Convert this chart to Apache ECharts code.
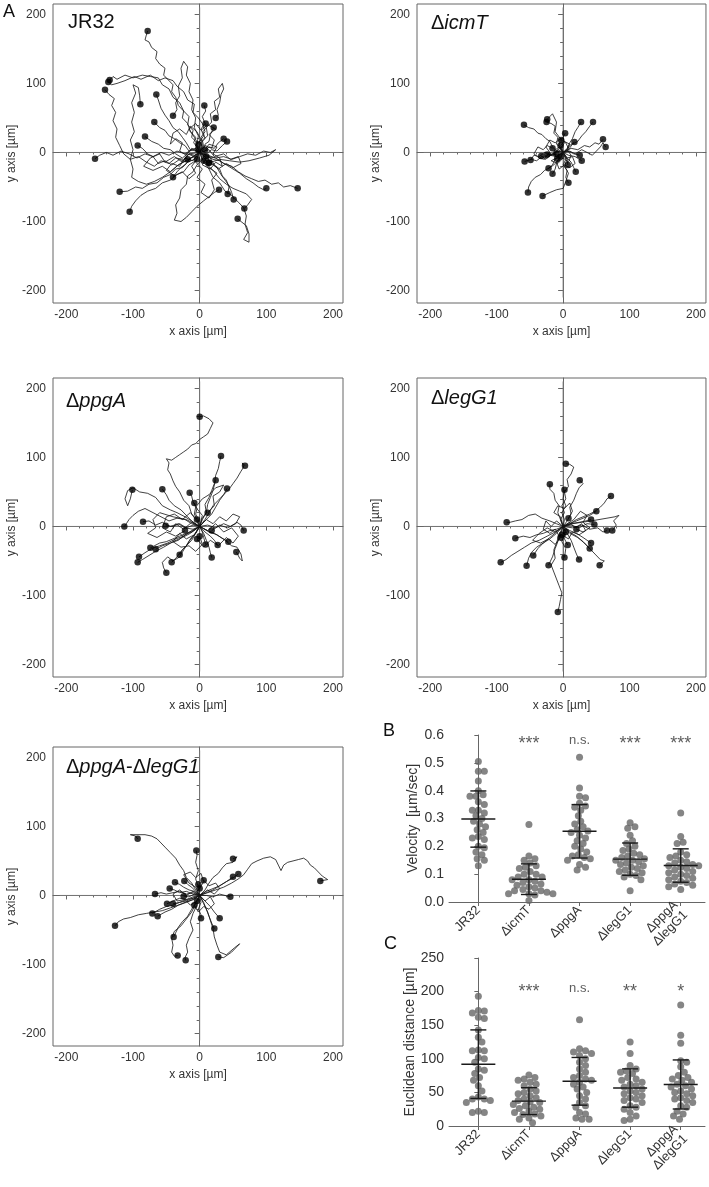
<!DOCTYPE html>
<html><head><meta charset="utf-8">
<script src="https://cdn.jsdelivr.net/npm/echarts@6/dist/echarts.min.js"></script>
<style>html,body{margin:0;padding:0;background:#fff}#c{width:709px;height:1187px}</style>
</head><body><div id="c"></div><script>
// ---------------- DATA ----------------
const trackTicks = [-200, -100, 0, 100, 200];
const trackMinorTicks = [-200,-180,-160,-140,-120,-100,-80,-60,-40,-20,0,20,40,60,80,100,120,140,160,180,200];

const tracksJR32 = [
 [[0,0],[-4,8],[-9,14],[-6,22],[-14,30],[-18,42],[-26,50],[-24,60],[-32,68],[-36,80],[-42,88],[-40,98],[-48,106],[-54,112],[-52,122],[-60,128],[-66,136],[-64,146],[-72,152],[-76,160],[-82,163],[-80,170],[-78,176]],
 [[0,0],[-6,6],[-4,14],[-12,22],[-10,32],[-18,40],[-16,52],[-24,60],[-30,72],[-40,80],[-46,92],[-56,98],[-62,108],[-74,110],[-86,112],[-100,108],[-112,112],[-124,106],[-130,110],[-135,105]],
 [[0,0],[4,10],[2,22],[8,30],[4,42],[-2,50],[-10,58],[-8,70],[-18,76],[-24,88],[-34,96],[-40,104],[-52,108],[-62,104],[-74,112],[-88,106],[-98,110],[-112,104],[-124,100],[-132,98],[-137,102]],
 [[0,0],[-8,-4],[-16,-2],[-24,-10],[-36,-8],[-46,-16],[-58,-12],[-68,-20],[-80,-14],[-92,-6],[-104,-10],[-114,-2],[-120,10],[-126,22],[-124,34],[-130,46],[-126,58],[-132,68],[-128,78],[-136,84],[-142,91]],
 [[0,0],[-6,6],[-14,4],[-20,14],[-26,22],[-32,30],[-40,36],[-46,46],[-52,54],[-58,64],[-62,76],[-65,84]],
 [[0,0],[-10,-6],[-20,-12],[-32,-18],[-44,-28],[-56,-36],[-68,-42],[-80,-46],[-92,-42],[-102,-36],[-100,-24],[-104,-10],[-100,4],[-104,18],[-98,30],[-102,44],[-98,58],[-102,72],[-96,86],[-100,98],[-92,94],[-90,82],[-89,70]],
 [[0,0],[4,8],[0,16],[6,24],[2,34],[8,42],[4,52],[9,60],[7,68]],
 [[0,0],[-4,12],[-2,24],[-8,36],[-6,50],[-12,62],[-10,76],[-16,88],[-14,100],[-20,112],[-18,124],[-24,132],[-28,122],[-26,108],[-32,96],[-30,82],[-36,72],[-34,62],[-40,53]],
 [[0,0],[4,6],[2,14],[8,20],[5,30],[10,36],[9,42]],
 [[0,0],[6,8],[4,18],[12,24],[10,36],[18,44],[16,56],[24,62],[22,74],[30,80],[28,92],[34,100],[36,92],[32,84],[30,72],[26,62],[28,54],[24,50]],
 [[0,0],[6,4],[8,12],[14,16],[16,26],[21,36]],
 [[0,0],[-8,4],[-16,2],[-22,10],[-30,14],[-38,20],[-46,24],[-52,32],[-60,36],[-68,44]],
 [[0,0],[-8,-6],[-18,-2],[-26,-8],[-36,-2],[-44,4],[-54,6],[-62,12],[-72,16],[-82,23]],
 [[0,0],[-10,-6],[-20,-14],[-30,-10],[-42,-18],[-52,-12],[-62,-16],[-70,-6],[-78,-2],[-86,6],[-93,10]],
 [[0,0],[8,2],[14,8],[22,6],[28,14],[36,20]],
 [[0,0],[10,-2],[18,4],[26,2],[34,10],[41,16]],
 [[0,0],[-12,4],[-22,-2],[-34,2],[-46,-4],[-58,0],[-70,-6],[-82,-2],[-94,-8],[-106,-2],[-118,2],[-130,-4],[-140,0],[-150,-4],[-157,-9]],
 [[0,0],[-8,-10],[-18,-14],[-26,-22],[-36,-24],[-44,-32],[-54,-36],[-64,-44],[-76,-46],[-86,-52],[-96,-50],[-108,-56],[-120,-57]],
 [[0,0],[-6,-12],[-16,-18],[-24,-28],[-34,-32],[-44,-40],[-56,-44],[-66,-52],[-78,-56],[-88,-62],[-96,-70],[-102,-78],[-105,-86]],
 [[0,0],[-6,-6],[-14,-8],[-20,-16],[-28,-22],[-34,-28],[-40,-36]],
 [[0,0],[4,-10],[-4,-18],[-10,-28],[-18,-34],[-20,-46],[-28,-54],[-30,-66],[-36,-76],[-34,-88],[-38,-98],[-28,-100],[-20,-94],[-12,-86],[-4,-78],[6,-70],[14,-64],[22,-58],[29,-54]],
 [[0,0],[8,-6],[16,-8],[22,-18],[30,-24],[34,-34],[40,-40],[44,-50],[42,-60]],
 [[0,0],[10,-8],[18,-16],[26,-22],[32,-32],[38,-40],[44,-48],[48,-58],[51,-68]],
 [[0,0],[8,-10],[14,-20],[22,-28],[30,-38],[40,-46],[50,-52],[60,-56],[70,-60],[78,-68],[72,-76],[67,-81]],
 [[0,0],[6,-14],[14,-24],[20,-36],[30,-44],[38,-56],[48,-62],[58,-72],[66,-80],[70,-92],[68,-104],[72,-116],[66,-126],[74,-130],[74,-118],[70,-106],[62,-100],[57,-96]],
 [[0,0],[10,-4],[20,-10],[30,-12],[40,-18],[50,-24],[60,-30],[70,-38],[80,-44],[88,-50],[96,-54],[100,-52]],
 [[0,0],[12,-6],[24,-8],[36,-16],[48,-20],[58,-28],[68,-34],[78,-38],[88,-42],[98,-40],[108,-46],[118,-44],[126,-50],[136,-48],[147,-52]],
 [[0,0],[6,-4],[4,-10],[10,-12],[14,-15]],
 [[0,0],[12,-4],[24,-8],[36,-6],[48,-10],[60,-6],[72,-2],[84,-4],[96,2],[106,0],[114,4],[104,-4],[90,-8],[74,-12],[60,-14],[45,-12],[30,-10],[14,-15]],
 [[0,0],[-12,6],[-20,-4],[-30,2],[-26,14],[-36,20],[-44,12],[-40,28],[-30,34],[-20,26],[-14,38],[-4,30],[2,18],[-6,10],[-2,4]],
 [[0,0],[10,-8],[4,-18],[16,-24],[24,-14],[34,-20],[30,-8],[20,-2],[26,8],[14,12],[8,4]],
 [[0,0],[-10,-12],[-22,-8],[-30,-20],[-42,-16],[-50,-26],[-38,-34],[-26,-28],[-16,-38],[-6,-30],[-12,-20],[-4,-10]],
 [[0,0],[14,4],[22,-6],[36,-2],[46,-10],[58,-6],[62,-16],[50,-22],[40,-16],[28,-24],[18,-16],[10,-6]],
 [[0,0],[-6,-14],[4,-24],[-4,-36],[8,-46],[2,-58],[14,-66],[22,-54],[18,-40],[26,-30],[14,-22],[6,-12]],
 [[0,0],[-16,-2],[-26,-14],[-38,-6],[-52,-14],[-60,-2],[-74,-8],[-84,-20],[-70,-26],[-56,-20],[-44,-28],[-32,-18],[-18,-10]],
 [[0,0],[8,10],[18,6],[22,18],[14,26],[24,34],[12,40],[2,32],[-6,42],[-16,34],[-8,22],[-2,12]]
];

const tracksIcmT = [
 [[0,0],[-6,6],[-10,2],[-16,8],[-20,16],[-26,20],[-32,26],[-38,28],[-44,34],[-52,36],[-59,40]],
 [[0,0],[-4,8],[-10,12],[-8,22],[-14,28],[-12,38],[-18,42],[-25,44]],
 [[0,0],[-6,10],[-4,20],[-12,30],[-10,44],[-16,56],[-20,52],[-24,48]],
 [[0,0],[6,6],[10,14],[14,20],[18,30],[22,36],[27,44]],
 [[0,0],[8,4],[14,12],[22,16],[28,24],[34,30],[40,38],[45,44]],
 [[0,0],[-2,8],[2,14],[0,22],[3,28]],
 [[0,0],[6,4],[10,10],[17,15]],
 [[0,0],[10,2],[18,-2],[28,4],[36,0],[44,-4],[50,2],[56,8],[60,14],[64,8]],
 [[0,0],[12,6],[22,4],[32,10],[40,8],[48,14],[54,12],[60,19]],
 [[0,0],[-8,-4],[-16,-2],[-24,-8],[-32,-6],[-40,-12],[-48,-10],[-58,-13]],
 [[0,0],[-10,2],[-18,-4],[-28,0],[-36,-6],[-44,-4],[-49,-11]],
 [[0,0],[-8,2],[-16,-2],[-24,-3]],
 [[0,0],[-6,-6],[-12,-10],[-16,-18],[-22,-23]],
 [[0,0],[-4,-10],[-10,-16],[-12,-24],[-16,-31]],
 [[0,0],[2,-6],[6,-10],[7,-18]],
 [[0,0],[6,-8],[12,-14],[16,-22],[19,-28]],
 [[0,0],[8,2],[16,-2],[25,-4]],
 [[0,0],[8,-4],[18,-6],[28,-12]],
 [[0,0],[4,-10],[0,-18],[6,-26],[4,-36],[8,-44]],
 [[0,0],[-6,-10],[-14,-18],[-20,-22],[-28,-26],[-34,-32],[-42,-36],[-48,-42],[-52,-50],[-53,-58]],
 [[0,0],[6,-10],[2,-20],[8,-30],[4,-42],[0,-52],[-10,-54],[-20,-58],[-31,-63]],
 [[0,0],[-10,-6],[-20,-4],[-26,-10],[-33,-5]],
 [[0,0],[-4,6],[0,12],[-3,18]],
 [[0,0],[-4,-2],[-9,-9]],
 [[0,0],[-6,8],[-14,2],[-10,-8],[-18,-12],[-8,-16],[0,-8],[8,-14],[12,-4],[6,4],[10,12],[2,16],[-4,10]],
 [[0,0],[8,6],[4,14],[-4,20],[-12,14],[-20,18],[-26,8],[-20,0],[-28,-6],[-18,-4],[-10,-2]],
 [[0,0],[6,-8],[14,-6],[18,-16],[10,-22],[2,-18],[-6,-24],[-10,-14],[-4,-6]],
 [[0,0],[-8,4],[-14,-4],[-22,-2],[-28,-10],[-36,-8],[-44,-2],[-38,8],[-30,4],[-24,10],[-16,6]]
];

const tracksPpgA = [
 [[0,0],[-6,10],[-12,18],[-16,30],[-24,38],[-30,50],[-36,58],[-40,66],[-44,76],[-48,82],[-46,92],[-50,98],[-42,96],[-36,100],[-30,104],[-24,108],[-18,112],[-12,118],[-6,120],[0,126],[6,130],[12,134],[16,142],[20,150],[14,156],[6,160],[0,159]],
 [[0,0],[4,12],[10,20],[8,32],[14,42],[18,52],[22,62],[24,74],[28,84],[30,94],[32,102]],
 [[0,0],[8,10],[14,20],[20,30],[28,38],[36,46],[44,54],[50,62],[56,70],[62,80],[66,86],[64,92],[68,88]],
 [[0,0],[4,10],[10,20],[12,32],[16,42],[20,52],[22,60],[24,67]],
 [[0,0],[10,10],[18,18],[24,28],[30,38],[36,46],[41,55]],
 [[0,0],[-4,10],[-8,18],[-6,28],[-10,36],[-12,44],[-15,49]],
 [[0,0],[-10,6],[-18,14],[-28,24],[-38,30],[-46,38],[-50,46],[-56,54]],
 [[0,0],[-12,8],[-22,14],[-34,20],[-44,24],[-56,30],[-66,42],[-78,48],[-90,50],[-100,56],[-108,52],[-112,40],[-108,30],[-104,40],[-101,53]],
 [[0,0],[-2,10],[-6,18],[-4,26],[-8,34]],
 [[0,0],[-12,4],[-22,10],[-34,12],[-46,8],[-58,14],[-70,20],[-82,26],[-92,22],[-100,16],[-106,10],[-110,4],[-113,0]],
 [[0,0],[-10,-4],[-22,-2],[-32,4],[-44,0],[-56,6],[-66,2],[-76,8],[-85,7]],
 [[0,0],[-10,2],[-20,-2],[-30,4],[-40,0],[-51,1]],
 [[0,0],[-10,-6],[-20,-10],[-30,-14],[-40,-18],[-50,-22],[-60,-24],[-68,-28],[-74,-31]],
 [[0,0],[-12,-8],[-22,-12],[-32,-20],[-44,-24],[-56,-28],[-66,-33]],
 [[0,0],[-12,-6],[-24,-14],[-36,-18],[-48,-24],[-60,-28],[-72,-32],[-82,-38],[-91,-44]],
 [[0,0],[-14,-10],[-26,-16],[-40,-22],[-54,-30],[-66,-36],[-76,-42],[-86,-48],[-93,-52]],
 [[0,0],[-6,-10],[-14,-18],[-20,-28],[-28,-36],[-34,-44],[-42,-52]],
 [[0,0],[-6,-10],[-12,-20],[-20,-28],[-26,-34],[-30,-41]],
 [[0,0],[-8,-12],[-16,-22],[-24,-34],[-30,-44],[-40,-50],[-48,-44],[-56,-52],[-54,-60],[-50,-67]],
 [[0,0],[4,-8],[6,-16],[9,-26]],
 [[0,0],[6,-10],[10,-20],[14,-30],[16,-38],[18,-45]],
 [[0,0],[8,-8],[16,-14],[22,-20],[27,-27]],
 [[0,0],[12,-6],[22,-10],[32,-16],[43,-22]],
 [[0,0],[14,-8],[26,-12],[38,-20],[48,-28],[56,-30],[62,-40],[64,-50],[60,-46],[55,-37]],
 [[0,0],[12,2],[24,-2],[36,4],[46,0],[56,6],[62,2],[66,-6]],
 [[0,0],[-12,6],[-24,-4],[-36,4],[-44,-8],[-56,-2],[-50,14],[-38,18],[-26,10],[-14,20],[-4,10]],
 [[0,0],[12,-6],[24,4],[36,-8],[48,-2],[58,-14],[50,-24],[40,-16],[28,-28],[16,-20],[6,-30],[-4,-18]],
 [[0,0],[-8,-12],[-20,-18],[-30,-10],[-40,-22],[-28,-30],[-16,-28],[-6,-36],[4,-26],[0,-14]],
 [[0,0],[10,10],[20,4],[30,14],[40,8],[50,18],[60,14],[54,4],[42,-2],[30,2],[18,-6]],
 [[0,0],[-20,10],[-40,14],[-60,20],[-70,10],[-66,-2],[-78,-10],[-64,-16],[-50,-8],[-36,-14],[-22,-6]],
 [[0,0],[4,16],[-6,28],[4,40],[14,46],[24,56],[36,60],[30,50],[20,44],[22,30],[12,20]]
];

const tracksLegG1 = [
 [[0,0],[-4,10],[2,20],[-2,30],[4,40],[2,50],[8,58],[6,68],[12,76],[16,86],[10,90],[4,91]],
 [[0,0],[6,8],[12,18],[10,28],[16,38],[20,48],[24,56],[30,62],[25,67]],
 [[0,0],[-4,10],[-8,20],[-6,30],[-12,38],[-14,48],[-20,54],[-20,61]],
 [[0,0],[2,10],[-2,20],[4,30],[0,40],[2,53]],
 [[0,0],[10,4],[20,10],[30,14],[40,18],[48,22],[56,28],[62,34],[66,40],[72,44]],
 [[0,0],[10,4],[20,8],[30,12],[40,16],[50,22]],
 [[0,0],[-10,4],[-20,8],[-32,12],[-42,18],[-52,16],[-62,10],[-72,8],[-80,6],[-85,6]],
 [[0,0],[-10,-4],[-20,-6],[-30,-10],[-40,-12],[-50,-16],[-60,-14],[-72,-17]],
 [[0,0],[-12,-8],[-24,-14],[-36,-20],[-48,-24],[-58,-30],[-68,-36],[-78,-42],[-86,-48],[-94,-52]],
 [[0,0],[-10,-10],[-20,-18],[-30,-24],[-40,-30],[-48,-38],[-52,-46],[-55,-57]],
 [[0,0],[-10,-8],[-20,-16],[-30,-24],[-38,-32],[-45,-42]],
 [[0,0],[-4,-12],[-8,-22],[-12,-32],[-16,-44],[-22,-56]],
 [[0,0],[2,-12],[-2,-22],[4,-32],[2,-45]],
 [[0,0],[6,-10],[12,-20],[16,-30],[20,-40],[24,-48]],
 [[0,0],[10,-8],[20,-14],[30,-22],[40,-32],[48,-40],[56,-48],[62,-50],[55,-56]],
 [[0,0],[10,-6],[20,-10],[30,-16],[42,-24]],
 [[0,0],[10,-10],[22,-16],[32,-24],[40,-32]],
 [[0,0],[4,-10],[2,-18],[7,-27]],
 [[0,0],[12,2],[24,-2],[36,4],[47,3]],
 [[0,0],[14,-2],[28,2],[40,-4],[52,-2],[60,-8],[66,-6]],
 [[0,0],[14,4],[28,6],[42,8],[54,10],[66,12],[78,14],[84,16],[76,8],[80,2],[74,-6]],
 [[0,0],[-6,-12],[-10,-24],[-14,-34],[-12,-46],[-18,-56],[-14,-66],[-10,-76],[-6,-86],[-2,-96],[-4,-106],[-6,-116],[-8,-124]],
 [[0,0],[12,4],[24,6],[34,8],[42,10]],
 [[0,0],[-10,8],[-18,0],[-26,8],[-30,-4],[-20,-10],[-12,-4],[-6,-14],[4,-8]],
 [[0,0],[10,6],[18,-2],[28,4],[34,-6],[24,-12],[14,-8],[8,-18],[-2,-12]],
 [[0,0],[-4,14],[-14,20],[-8,30],[2,26],[10,34],[14,22],[8,12]],
 [[0,0],[-12,-8],[-24,-2],[-36,-10],[-46,-20],[-34,-24],[-22,-18],[-12,-26],[-4,-16]],
 [[0,0],[16,10],[26,22],[36,16],[30,6],[40,-2],[30,-8],[20,-4]]
];

const tracksDouble = [
 [[0,0],[-6,8],[-12,18],[-20,26],[-24,36],[-30,44],[-36,54],[-44,62],[-52,70],[-58,76],[-64,82],[-72,86],[-82,88],[-94,88],[-104,88],[-96,86],[-93,82]],
 [[0,0],[-2,12],[-6,24],[-2,36],[-6,48],[-4,58],[-5,65]],
 [[0,0],[8,8],[14,18],[20,26],[28,32],[34,40],[40,46],[50,48],[56,56],[50,53]],
 [[0,0],[10,6],[20,10],[30,14],[40,20],[48,24],[54,28],[58,31]],
 [[0,0],[10,4],[20,8],[30,14],[40,20],[50,27]],
 [[0,0],[12,4],[24,8],[36,12],[48,18],[58,24],[66,30],[72,38],[78,46],[86,50],[96,54],[106,56],[114,52],[118,44],[122,36],[126,44],[132,48],[140,50],[148,52],[156,54],[162,50],[166,44],[172,40],[178,34],[184,28],[192,23],[181,21]],
 [[0,0],[-10,4],[-20,2],[-30,6],[-40,4],[-50,2],[-58,4],[-67,2]],
 [[0,0],[-8,6],[-16,8],[-24,12],[-30,16],[-37,19]],
 [[0,0],[-6,6],[-12,12],[-18,16],[-23,21]],
 [[0,0],[-4,6],[0,10],[-2,16]],
 [[0,0],[-10,2],[-20,6],[-30,4],[-38,8],[-45,10]],
 [[0,0],[-10,-2],[-20,-6],[-30,-4],[-40,-8],[-49,-12]],
 [[0,0],[-10,-4],[-20,-6],[-30,-10],[-40,-12]],
 [[0,0],[-8,2],[-16,-2],[-24,-1]],
 [[0,0],[-10,-4],[-20,-8],[-30,-10],[-40,-14],[-50,-16],[-60,-20],[-71,-26]],
 [[0,0],[-10,-6],[-22,-10],[-32,-14],[-42,-20],[-52,-24],[-63,-30]],
 [[0,0],[-10,-6],[-20,-10],[-32,-14],[-44,-18],[-56,-22],[-68,-24],[-80,-26],[-92,-28],[-104,-32],[-114,-34],[-122,-38],[-127,-44]],
 [[0,0],[10,0],[20,-2],[30,2],[38,0],[46,-2]],
 [[0,0],[2,-10],[-2,-20],[2,-28],[2,-33]],
 [[0,0],[6,-10],[10,-20],[14,-30],[18,-40],[22,-48]],
 [[0,0],[8,-8],[16,-16],[22,-24],[30,-33]],
 [[0,0],[-6,-10],[-12,-20],[-18,-30],[-26,-38],[-32,-46],[-36,-54],[-39,-60]],
 [[0,0],[-6,-12],[-12,-24],[-20,-34],[-28,-44],[-38,-52],[-42,-62],[-40,-72],[-42,-82],[-38,-88],[-33,-87]],
 [[0,0],[-4,-14],[-10,-26],[-14,-38],[-10,-50],[-16,-62],[-20,-72],[-18,-82],[-22,-90],[-21,-94]],
 [[0,0],[6,-12],[12,-24],[16,-36],[20,-48],[22,-60],[26,-72],[30,-82],[40,-86],[52,-76],[60,-70],[48,-82],[36,-90],[28,-89]],
 [[0,0],[-10,6],[-20,0],[-30,8],[-40,2],[-34,-8],[-22,-6],[-14,-14],[-4,-8]],
 [[0,0],[8,-8],[16,-2],[22,-12],[14,-20],[6,-16],[-2,-24],[-8,-14]],
 [[0,0],[-6,12],[-16,18],[-24,30],[-14,34],[-6,26],[2,32],[6,20],[0,10]],
 [[0,0],[12,8],[22,2],[30,10],[24,18],[14,14],[6,22]]
];

const groups = ['JR32', 'ΔicmT', 'ΔppgA', 'ΔlegG1', 'ΔppgA\nΔlegG1'];

const velJR32   = [0.505,0.47,0.47,0.435,0.40,0.385,0.38,0.38,0.36,0.35,0.33,0.33,0.32,0.31,0.30,0.29,0.28,0.27,0.26,0.25,0.235,0.23,0.225,0.20,0.195,0.18,0.17,0.155,0.15,0.13];
const velIcmT   = [0.278,0.165,0.155,0.15,0.14,0.13,0.125,0.12,0.11,0.10,0.10,0.09,0.09,0.08,0.08,0.075,0.07,0.065,0.06,0.055,0.05,0.045,0.04,0.04,0.035,0.03,0.03,0.03,0.025,0.005];
const velPpgA   = [0.52,0.41,0.38,0.375,0.355,0.345,0.34,0.33,0.31,0.29,0.28,0.27,0.26,0.255,0.25,0.24,0.23,0.22,0.21,0.2,0.19,0.18,0.17,0.165,0.16,0.155,0.15,0.135,0.125,0.115];
const velLegG1  = [0.285,0.27,0.265,0.24,0.22,0.21,0.2,0.19,0.185,0.175,0.17,0.165,0.16,0.155,0.15,0.15,0.145,0.14,0.135,0.13,0.125,0.12,0.115,0.11,0.105,0.1,0.095,0.09,0.08,0.04];
const velDouble = [0.32,0.235,0.215,0.21,0.18,0.17,0.165,0.16,0.15,0.145,0.14,0.135,0.13,0.13,0.125,0.12,0.115,0.11,0.105,0.1,0.095,0.09,0.085,0.08,0.075,0.07,0.065,0.06,0.055,0.045];
const velMean = [0.298, 0.082, 0.254, 0.154, 0.131];
const velSD   = [0.101, 0.055, 0.096, 0.058, 0.060];
const velSig  = ['', '***', 'n.s.', '***', '***'];

const distJR32   = [193,172,171,168,162,160,143,132,125,113,112,112,102,100,95,85,83,78,72,68,60,52,43,40,40,38,35,22,20,20];
const distIcmT   = [76,72,70,68,65,62,60,55,52,50,48,45,42,40,38,36,35,32,30,28,26,25,22,20,18,17,15,12,10,5];
const distPpgA   = [158,115,112,110,108,105,100,95,90,85,80,75,72,70,68,65,62,58,55,50,45,40,35,30,28,20,18,12,10,10];
const distLegG1  = [125,108,90,85,82,80,78,72,70,68,65,62,60,58,55,52,50,48,45,42,40,38,35,30,28,25,20,15,10,8];
const distDouble = [180,135,123,97,95,88,80,75,72,70,68,65,62,60,58,55,52,50,48,45,42,40,38,35,30,28,22,18,15,10];
const distMean = [92, 37, 66.5, 56.5, 61.8];
const distSD   = [51, 20, 35.5, 28.5, 36.5];
const distSig  = ['', '***', 'n.s.', '**', '*'];

// ---------------- LAYOUT ----------------
const FONT = '"Liberation Sans", Arial, sans-serif';
const AX = '#666';
const TXT = '#333';

const panels = [
  {tracks: tracksJR32,  left: 53,  top: 4,   label: '{n|JR32}', lx: 68, ly: 12},
  {tracks: tracksIcmT,  left: 417, top: 4,   label: '{n|Δ}{i|icmT}', lx: 431, ly: 13},
  {tracks: tracksPpgA,  left: 53,  top: 378, label: '{n|Δ}{i|ppgA}', lx: 66, ly: 391},
  {tracks: tracksLegG1, left: 417, top: 378, label: '{n|Δ}{i|legG1}', lx: 431, ly: 388},
  {tracks: tracksDouble,left: 53,  top: 747, label: '{n|Δ}{i|ppgA}{n|-Δ}{i|legG1}', lx: 66, ly: 757}
];

const grids = [], xAxes = [], yAxes = [], series = [], graphics = [];

panels.forEach((p, k) => {
  grids.push({left: p.left, top: p.top, width: 290, height: 299, show: true, borderColor: AX, borderWidth: 1, backgroundColor: 'transparent'});
  const xa = 2 * k, ya = 2 * k;
  xAxes.push({
    gridIndex: k, type: 'value', min: -220, max: 215, position: 'bottom',
    axisLine: {show: true, lineStyle: {color: AX}},
    axisTick: {show: true, customValues: trackTicks, length: 4, lineStyle: {color: AX}},
    axisLabel: {customValues: trackTicks, fontSize: 12, color: TXT, fontFamily: FONT, margin: 6},
    splitLine: {show: false},
    name: 'x axis [µm]', nameLocation: 'middle', nameGap: 23,
    nameTextStyle: {fontSize: 12, color: TXT, fontFamily: FONT}
  });
  xAxes.push({
    gridIndex: k, type: 'value', min: -220, max: 215, position: 'bottom',
    axisLine: {show: false},
    axisTick: {show: true, customValues: trackMinorTicks, length: 2, lineStyle: {color: AX}},
    axisLabel: {show: false}, splitLine: {show: false}
  });
  yAxes.push({
    gridIndex: k, type: 'value', min: -218, max: 215, position: 'left',
    axisLine: {show: true, lineStyle: {color: AX}},
    axisTick: {show: true, customValues: trackTicks, length: 5, lineStyle: {color: AX}},
    axisLabel: {customValues: trackTicks, fontSize: 12, color: TXT, fontFamily: FONT, margin: 7},
    splitLine: {show: false},
    name: 'y axis [µm]', nameLocation: 'middle', nameGap: 24, nameRotate: 90,
    nameTextStyle: {fontSize: 12, color: TXT, fontFamily: FONT}
  });
  yAxes.push({
    gridIndex: k, type: 'value', min: -218, max: 215, position: 'left',
    axisLine: {show: false},
    axisTick: {show: true, customValues: trackMinorTicks, length: 3, lineStyle: {color: AX}},
    axisLabel: {show: false}, splitLine: {show: false}
  });
  series.push({type: 'line', xAxisIndex: xa, yAxisIndex: ya, data: [[-210, 0], [210, 0]], showSymbol: false, silent: true, lineStyle: {color: '#777', width: 1}, z: 1});
  series.push({type: 'line', xAxisIndex: xa, yAxisIndex: ya, data: [[0, -210], [0, 210]], showSymbol: false, silent: true, lineStyle: {color: '#777', width: 1}, z: 1});
  p.tracks.forEach(t => {
    series.push({type: 'line', xAxisIndex: xa, yAxisIndex: ya, data: t, showSymbol: false, silent: true,
      lineStyle: {color: '#111', width: 0.8}, z: 2});
  });
  series.push({type: 'scatter', xAxisIndex: xa, yAxisIndex: ya, data: p.tracks.map(t => t[t.length - 1]),
    symbolSize: 6.5, itemStyle: {color: '#000'}, silent: true, z: 3});
  graphics.push({type: 'text', left: p.lx, top: p.ly, style: {
    text: p.label,
    rich: {
      n: {fontSize: 20, fontFamily: FONT, fill: '#111'},
      i: {fontSize: 20, fontFamily: FONT, fontStyle: 'italic', fill: '#111'}
    }
  }});
});

function swarm(values, idx, pxPerY) {
  const pxPerX = 50.6, step = 1.2, dmin = 5.9;
  const placed = [];
  const out = [];
  const sorted = values.slice().sort((a, b) => b - a);
  sorted.forEach(v => {
    const y = v * pxPerY;
    let off = 0;
    for (let k = 0; k < 80; k++) {
      const cand = (k % 2 === 1 ? 1 : -1) * Math.ceil(k / 2) * step;
      const ok = placed.every(q => (q.x - cand) ** 2 + (q.y - y) ** 2 >= dmin * dmin);
      if (ok) { off = cand; break; }
    }
    placed.push({x: off, y: y});
    out.push([idx + off / pxPerX, v]);
  });
  return out;
}

const dotPlots = [
  {top: 735, height: 167, max: 0.6, interval: 0.1, dec: 1, name: 'Velocity  [µm/sec]',
   sets: [velJR32, velIcmT, velPpgA, velLegG1, velDouble], mean: velMean, sd: velSD, sig: velSig, sigY: 0.582},
  {top: 958, height: 168, max: 250, interval: 50, dec: 0, name: 'Euclidean distance [µm]',
   sets: [distJR32, distIcmT, distPpgA, distLegG1, distDouble], mean: distMean, sd: distSD, sig: distSig, sigY: 205}
];

dotPlots.forEach((d, j) => {
  const gi = grids.length;
  grids.push({left: 449, top: d.top, width: 256, height: d.height});
  const xi = xAxes.length, yi = yAxes.length;
  xAxes.push({
    gridIndex: gi, type: 'value', min: -0.58, max: 4.48,
    axisLine: {show: true, lineStyle: {color: AX}},
    axisTick: {show: true, customValues: [0, 1, 2, 3, 4], length: 4, lineStyle: {color: AX}},
    axisLabel: {customValues: [0, 1, 2, 3, 4], formatter: v => groups[Math.round(v)], rotate: 45,
      fontSize: 13, color: TXT, fontFamily: FONT, margin: 6, lineHeight: 14},
    splitLine: {show: false}
  });
  yAxes.push({
    gridIndex: gi, type: 'value', min: 0, max: d.max, interval: d.interval,
    axisLine: {show: true, lineStyle: {color: AX}},
    axisTick: {show: true, length: 4, lineStyle: {color: AX}},
    axisLabel: {formatter: v => v.toFixed(d.dec), fontSize: 14, color: TXT, fontFamily: FONT, margin: 5},
    splitLine: {show: false},
    name: d.name, nameLocation: 'middle', nameGap: 25, nameRotate: 90,
    nameTextStyle: {fontSize: 14, color: TXT, fontFamily: FONT}
  });
  const pxPerY = d.height / d.max;
  const pts = [];
  d.sets.forEach((s, i) => pts.push(...swarm(s, i, pxPerY)));
  series.push({type: 'scatter', xAxisIndex: xi, yAxisIndex: yi, data: pts, symbolSize: 7,
    itemStyle: {color: '#666'}, silent: true, z: 2});
  series.push({type: 'custom', xAxisIndex: xi, yAxisIndex: yi, silent: true, z: 4,
    data: d.mean.map((m, i) => [i, m, d.sd[i]]),
    encode: {x: 0, y: 1},
    renderItem: (params, api) => {
      const i = api.value(0), m = api.value(1), s = api.value(2);
      const c = api.coord([i, m]), t = api.coord([i, m + s]), b = api.coord([i, m - s]);
      const st = {stroke: '#1a1a1a', lineWidth: 1.4};
      return {type: 'group', children: [
        {type: 'line', shape: {x1: c[0] - 17, y1: c[1], x2: c[0] + 17, y2: c[1]}, style: st},
        {type: 'line', shape: {x1: t[0], y1: t[1], x2: b[0], y2: b[1]}, style: st},
        {type: 'line', shape: {x1: t[0] - 8, y1: t[1], x2: t[0] + 8, y2: t[1]}, style: st},
        {type: 'line', shape: {x1: b[0] - 8, y1: b[1], x2: b[0] + 8, y2: b[1]}, style: st}
      ]};
    }
  });
  series.push({type: 'scatter', xAxisIndex: xi, yAxisIndex: yi, symbolSize: 0, silent: true, z: 5,
    data: d.sig.map((s, i) => ({value: [i, d.sigY], label: s.indexOf('*') >= 0
      ? {show: true, formatter: s, fontSize: 18, offset: [0, 4]}
      : {show: true, formatter: s, fontSize: 13}})),
    label: {position: 'inside', color: TXT, fontFamily: FONT}
  });
});

graphics.push({type: 'text', left: 3, top: 3, style: {text: 'A', fontSize: 18, fontFamily: FONT, fill: '#111'}});
graphics.push({type: 'text', left: 383, top: 722, style: {text: 'B', fontSize: 18, fontFamily: FONT, fill: '#111'}});
graphics.push({type: 'text', left: 384, top: 935, style: {text: 'C', fontSize: 18, fontFamily: FONT, fill: '#111'}});

const chart = echarts.init(document.getElementById('c'), null, {renderer: 'canvas'});
chart.setOption({
  animation: false,
  backgroundColor: '#fff',
  grid: grids, xAxis: xAxes, yAxis: yAxes, series: series, graphic: graphics
});
</script></body></html>
